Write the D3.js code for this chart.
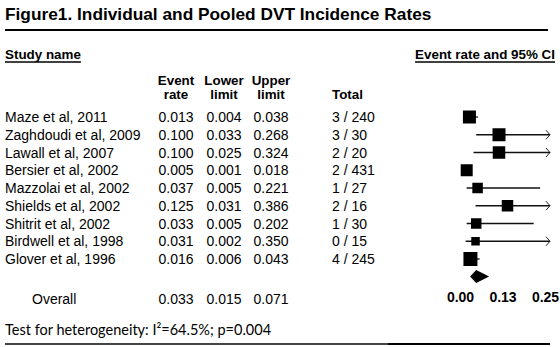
<!DOCTYPE html>
<html>
<head>
<meta charset="utf-8">
<script src="https://cdn.jsdelivr.net/npm/d3@7"></script>
<style>
  html, body { margin: 0; padding: 0; background: #fff; }
  svg { display: block; }
</style>
</head>
<body>
<div id="chart"></div>
<script>
// Study-level DVT incidence
const studies = [
  'Maze et al, 2011', 'Zaghdoudi et al, 2009', 'Lawall et al, 2007',
  'Bersier et al, 2002', 'Mazzolai et al, 2002', 'Shields et al, 2002',
  'Shitrit et al, 2002', 'Birdwell et al, 1998', 'Glover et al, 1996'
];
const eventRate = [0.013, 0.100, 0.100, 0.005, 0.037, 0.125, 0.033, 0.031, 0.016];
const lowerLimit = [0.004, 0.033, 0.025, 0.001, 0.005, 0.031, 0.005, 0.002, 0.006];
const upperLimit = [0.038, 0.268, 0.324, 0.018, 0.221, 0.386, 0.202, 0.350, 0.043];
const events = [3, 3, 2, 2, 1, 2, 1, 0, 4];
const totals = [240, 30, 20, 431, 27, 16, 30, 15, 245];
// relative weights (drive the square size)
const weights = [13, 13, 12.5, 12, 10.5, 11.5, 10.5, 8.5, 14];

// pooled estimate
const overall = { rate: 0.033, lower: 0.015, upper: 0.071 };

const tickValues = [0, 0.125, 0.25];
const tickLabels = ['0.00', '0.13', '0.25'];

const width = 560, height = 347;
const arial = '"Liberation Sans", Arial, sans-serif';

const svg = d3.select('#chart').append('svg')
  .attr('width', width)
  .attr('height', height);

// title + rule
svg.append('text')
  .attr('x', 5).attr('y', 20)
  .style('font-family', arial)
  .style('font-size', '17.3px')
  .style('font-weight', 'bold')
  .text('Figure1. Individual and Pooled DVT Incidence Rates');

svg.append('line')
  .attr('x1', 5).attr('x2', 548)
  .attr('y1', 30).attr('y2', 30)
  .attr('stroke', '#000').attr('stroke-width', 2);

// section headers (underlined)
function underlined(x, y, txt, anchor) {
  const t = svg.append('text')
    .attr('x', x).attr('y', y)
    .attr('text-anchor', anchor)
    .style('font-family', arial)
    .style('font-size', '13.4px')
    .style('font-weight', 'bold')
    .text(txt);
  const w = t.node().getComputedTextLength();
  const x0 = anchor === 'end' ? x - w : x;
  svg.append('line')
    .attr('x1', x0).attr('x2', x0 + w)
    .attr('y1', y + 3).attr('y2', y + 3)
    .attr('stroke', '#000').attr('stroke-width', 1.3);
}
underlined(5, 59, 'Study name', 'start');
underlined(555, 59, 'Event rate and 95% CI', 'end');

// column headers
const colX = { rate: 176, lower: 224, upper: 271, total: 332 };
const headers = [
  { x: colX.rate, lines: ['Event', 'rate'], anchor: 'middle' },
  { x: colX.lower, lines: ['Lower', 'limit'], anchor: 'middle' },
  { x: colX.upper, lines: ['Upper', 'limit'], anchor: 'middle' },
  { x: colX.total, lines: ['', 'Total'], anchor: 'start' }
];
headers.forEach(h => {
  h.lines.forEach((l, i) => {
    svg.append('text')
      .attr('x', h.x).attr('y', 85 + i * 14)
      .attr('text-anchor', h.anchor)
      .style('font-family', arial)
      .style('font-size', '13.4px')
      .style('font-weight', 'bold')
      .text(l);
  });
});

// row positions
const rowY = d3.scalePoint()
  .domain(studies)
  .range([117, 259]);
const overallY = 299;
const diamondY = 276.5;

const fmt = d3.format('.3f');
const rows = svg.append('g').attr('class', 'rows')
  .style('font-family', arial)
  .style('font-size', '14px');

studies.forEach((s, i) => {
  const y = rowY(s) + 5;
  rows.append('text').attr('x', 5).attr('y', y).text(s);
  rows.append('text').attr('x', colX.rate).attr('y', y).attr('text-anchor', 'middle').text(fmt(eventRate[i]));
  rows.append('text').attr('x', colX.lower).attr('y', y).attr('text-anchor', 'middle').text(fmt(lowerLimit[i]));
  rows.append('text').attr('x', colX.upper).attr('y', y).attr('text-anchor', 'middle').text(fmt(upperLimit[i]));
  rows.append('text').attr('x', colX.total).attr('y', y).text(`${events[i]} / ${totals[i]}`);
});

rows.append('text').attr('x', 32).attr('y', overallY + 5).text('Overall');
rows.append('text').attr('x', colX.rate).attr('y', overallY + 5).attr('text-anchor', 'middle').text(fmt(overall.rate));
rows.append('text').attr('x', colX.lower).attr('y', overallY + 5).attr('text-anchor', 'middle').text(fmt(overall.lower));
rows.append('text').attr('x', colX.upper).attr('y', overallY + 5).attr('text-anchor', 'middle').text(fmt(overall.upper));

// forest plot
const x = d3.scaleLinear().domain([0, 0.25]).range([465, 550]);
const size = d3.scaleLinear().domain([0, 14]).range([0, 14]);

const plot = svg.append('g').attr('class', 'forest');

studies.forEach((s, i) => {
  const y = rowY(s);
  const clipped = upperLimit[i] > 0.25;
  const xr = clipped ? x(0.25) : x(upperLimit[i]);
  plot.append('line')
    .attr('x1', x(lowerLimit[i])).attr('x2', xr)
    .attr('y1', y).attr('y2', y)
    .attr('stroke', '#111').attr('stroke-width', 1.3);
  if (clipped) {
    plot.append('path')
      .attr('d', `M${xr - 4},${y - 4.5}L${xr},${y}L${xr - 4},${y + 4.5}`)
      .attr('fill', 'none')
      .attr('stroke', '#222').attr('stroke-width', 1);
  }
  const side = size(weights[i]);
  plot.append('rect')
    .attr('x', x(eventRate[i]) - side / 2)
    .attr('y', y - side / 2)
    .attr('width', side).attr('height', side)
    .attr('fill', '#000');
});

// pooled diamond
plot.append('path')
  .attr('d', `M${x(overall.lower)},${diamondY}` +
             `L${x(overall.rate)},${diamondY - 6.5}` +
             `L${x(overall.upper)},${diamondY}` +
             `L${x(overall.rate)},${diamondY + 6.5}Z`)
  .attr('fill', '#000');

// axis labels only
const axis = svg.append('g')
  .attr('transform', `translate(0,${overallY - 7})`)
  .call(d3.axisBottom(x)
    .tickValues(tickValues)
    .tickSize(0)
    .tickPadding(0)
    .tickFormat((d, i) => tickLabels[i]));
axis.select('.domain').remove();
axis.selectAll('text')
  .attr('dx', -5)
  .attr('dy', '0.71em')
  .style('font-family', arial)
  .style('font-size', '14px')
  .style('font-weight', 'bold')
  .attr('fill', '#000');

// heterogeneity footnote + bottom rule
svg.append('text')
  .attr('x', 5).attr('y', 335)
  .style('font-family', 'Lato, "Open Sans", sans-serif')
  .style('font-size', '14.5px')
  .text('Test for heterogeneity: I\u00B2=64.5%; p=0.004');

svg.append('line')
  .attr('x1', 5).attr('x2', 388)
  .attr('y1', 344).attr('y2', 344)
  .attr('stroke', '#444').attr('stroke-width', 2);
svg.append('line')
  .attr('x1', 388).attr('x2', 550)
  .attr('y1', 344).attr('y2', 344)
  .attr('stroke', '#000').attr('stroke-width', 2);
</script>
</body>
</html>
